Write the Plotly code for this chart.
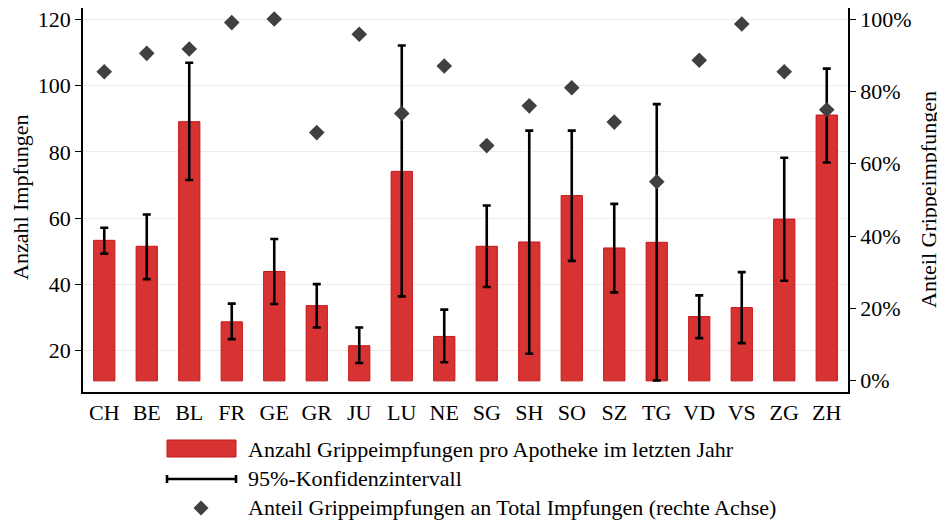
import plotly.graph_objects as go

# ---------------- data ----------------
cantons = ["CH", "BE", "BL", "FR", "GE", "GR", "JU", "LU", "NE", "SG",
           "SH", "SO", "SZ", "TG", "VD", "VS", "ZG", "ZH"]
impfungen = [53.3, 51.5, 89.1, 28.7, 43.9, 33.6, 21.5, 74.1, 24.3, 51.5,
             52.8, 66.8, 51.0, 52.7, 30.3, 33.0, 59.7, 91.1]
ci_upper = [57.1, 61.1, 106.9, 34.2, 53.7, 40.1, 27.0, 112.1, 32.4, 63.8,
            86.4, 86.4, 64.3, 94.4, 36.7, 43.7, 78.2, 105.1]
ci_lower = [49.3, 41.6, 71.5, 23.5, 34.1, 27.0, 16.3, 36.4, 16.5, 39.2,
            19.1, 47.1, 37.6, 11.0, 23.8, 22.3, 41.1, 76.8]
anteil_grippe = [0.854, 0.905, 0.917, 0.990, 1.000, 0.686, 0.958, 0.739, 0.870, 0.650,
                 0.760, 0.810, 0.715, 0.550, 0.886, 0.986, 0.854, 0.749]
bar_base = 10.9

left_title = "Anzahl Impfungen"
right_title = "Anteil Grippeimpfungen"
legend_labels = ["Anzahl Grippeimpfungen pro Apotheke im letzten Jahr",
                 "95%-Konfidenzintervall",
                 "Anteil Grippeimpfungen an Total Impfungen (rechte Achse)"]

# ---------------- style ----------------
FONT = "Liberation Serif"
FS = 22
BAR_FILL = "rgb(215,51,51)"
BAR_LINE = "rgb(200,22,22)"
DIAMOND = "#404040"

OFF = 8  # page body margin
W, H = 945 - OFF, 524 - OFF
ML, MT = 83 - OFF, 0
PLOT_R, PLOT_B = 848 - OFF, 392 - OFF
MR, MB = W - PLOT_R, H - PLOT_B
PW = PLOT_R - ML
PH = PLOT_B - MT


def px(x):
    return (x - OFF - ML) / PW


def py(y):
    return (PLOT_B - (y - OFF)) / PH


fig = go.Figure()

fig.add_trace(go.Bar(
    x=cantons,
    y=[v - bar_base for v in impfungen],
    base=bar_base,
    width=0.5,
    marker=dict(color=BAR_FILL, line=dict(color=BAR_LINE, width=1)),
    showlegend=False,
    hoverinfo="skip",
))

fig.add_trace(go.Scatter(
    x=cantons,
    y=impfungen,
    mode="markers",
    marker=dict(size=0.1, color="rgba(0,0,0,0)"),
    error_y=dict(
        type="data",
        symmetric=False,
        array=[u - v for u, v in zip(ci_upper, impfungen)],
        arrayminus=[v - l for v, l in zip(impfungen, ci_lower)],
        color="black",
        thickness=2.6,
        width=4,
    ),
    showlegend=False,
    hoverinfo="skip",
))

fig.add_trace(go.Scatter(
    x=cantons,
    y=anteil_grippe,
    yaxis="y2",
    mode="markers",
    marker=dict(symbol="diamond", size=12, color=DIAMOND),
    showlegend=False,
))

# ---------------- manual legend ----------------
shapes = []
annotations = []
shapes.append(dict(type="rect", xref="paper", yref="paper",
                   x0=px(167), x1=px(236), y0=py(457), y1=py(440),
                   fillcolor=BAR_FILL, line=dict(color=BAR_LINE, width=1)))
shapes.append(dict(type="line", xref="paper", yref="paper",
                   x0=px(167), x1=px(236), y0=py(479), y1=py(479),
                   line=dict(color="black", width=2.6)))
for xx in (167, 236):
    shapes.append(dict(type="line", xref="paper", yref="paper",
                       x0=px(xx), x1=px(xx), y0=py(475), y1=py(483),
                       line=dict(color="black", width=2.6)))
cx, cy, r = 201, 508, 7.5
path = "M {} {} L {} {} L {} {} L {} {} Z".format(
    px(cx), py(cy - r), px(cx + r), py(cy), px(cx), py(cy + r), px(cx - r), py(cy))
shapes.append(dict(type="path", xref="paper", yref="paper", path=path,
                   fillcolor=DIAMOND, line=dict(color=DIAMOND, width=0)))

for label, yy in zip(legend_labels, (449, 478, 507)):
    annotations.append(dict(text=label, xref="paper", yref="paper",
                            x=px(246), y=py(yy), xanchor="left", yanchor="middle",
                            showarrow=False, font=dict(family=FONT, size=FS, color="black")))

# axis titles (rotated)
annotations.append(dict(text=left_title, xref="paper", yref="paper",
                        x=px(20), y=py(197), xanchor="center", yanchor="middle",
                        textangle=-90, showarrow=False,
                        font=dict(family=FONT, size=FS, color="black")))
annotations.append(dict(text=right_title, xref="paper", yref="paper",
                        x=px(928), y=py(200), xanchor="center", yanchor="middle",
                        textangle=-90, showarrow=False,
                        font=dict(family=FONT, size=FS, color="black")))

fig.update_layout(
    width=W, height=H,
    margin=dict(l=ML, r=MR, t=MT, b=MB, pad=0),
    paper_bgcolor="white",
    plot_bgcolor="white",
    font=dict(family=FONT, size=FS, color="black"),
    xaxis=dict(
        range=[-0.5, 17.5],
        showline=True, linecolor="black", linewidth=1.5,
        ticks="", showgrid=False,
        tickfont=dict(family=FONT, size=FS, color="black"),
    ),
    yaxis=dict(
        range=[7.54, 123.4],
        tickvals=[20, 40, 60, 80, 100, 120],
        showgrid=True, gridcolor="#ececec", gridwidth=1,
        zeroline=False,
        showline=True, linecolor="black", linewidth=1.5,
        ticks="outside", ticklen=6, tickcolor="black", tickwidth=1,
        ticklabeloverflow="allow",
        tickfont=dict(family=FONT, size=FS, color="black"),
    ),
    yaxis2=dict(
        overlaying="y", side="right",
        range=[-0.031, 1.0304],
        tickvals=[0, 0.2, 0.4, 0.6, 0.8, 1.0],
        tickformat=".0%",
        showgrid=False, zeroline=False,
        showline=True, linecolor="black", linewidth=1.5,
        ticks="outside", ticklen=6, tickcolor="black", tickwidth=1,
        ticklabeloverflow="allow",
        tickfont=dict(family=FONT, size=FS, color="black"),
    ),
    shapes=shapes,
    annotations=annotations,
)

fig.write_html("out.html")
